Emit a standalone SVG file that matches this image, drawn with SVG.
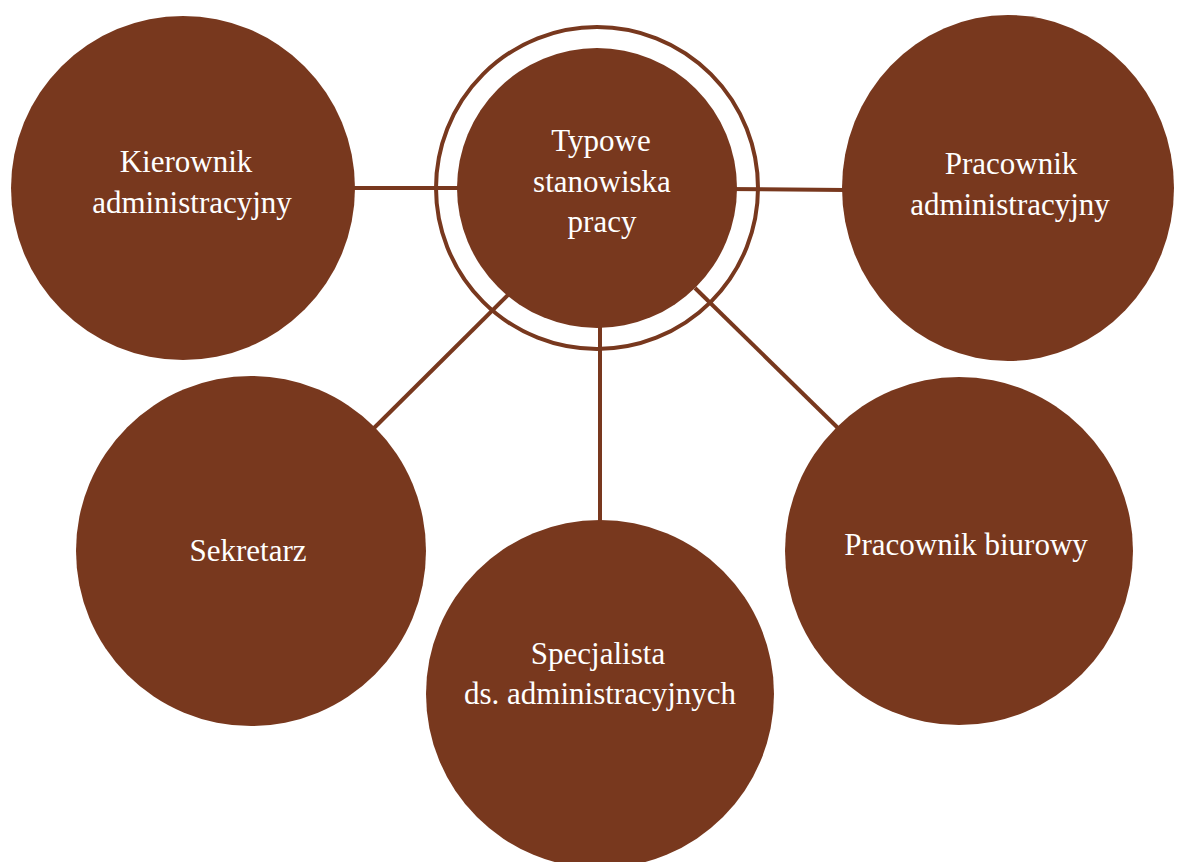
<svg xmlns="http://www.w3.org/2000/svg" width="1177" height="862" viewBox="0 0 1177 862">
<style>
.c{fill:#78381e}
.l{stroke:#78381e;stroke-width:4;fill:none}
.t{font-family:"Liberation Serif","DejaVu Serif",serif;font-size:31px;fill:#ffffff;text-anchor:middle}
</style>
<rect width="1177" height="862" fill="#ffffff"/>
<g id="connectors">
<line class="l" x1="350" y1="188" x2="470" y2="188"/>
<line class="l" x1="725" y1="189" x2="845" y2="190"/>
<line class="l" x1="368" y1="434" x2="510" y2="293"/>
<line class="l" x1="600" y1="320" x2="600" y2="525"/>
<line class="l" x1="695" y1="288" x2="840" y2="430"/>
</g>
<g id="center">
<circle cx="597" cy="188" r="161" fill="none" stroke="#78381e" stroke-width="4"/>
<circle class="c" cx="597" cy="188" r="140"/>
<text class="t" x="601" y="151">Typowe</text>
<text class="t" x="602" y="192">stanowiska</text>
<text class="t" x="602" y="232">pracy</text>
</g>
<g id="kierownik">
<circle class="c" cx="183" cy="188" r="172"/>
<text class="t" x="186" y="172">Kierownik</text>
<text class="t" x="192" y="213">administracyjny</text>
</g>
<g id="pracownik-adm">
<ellipse class="c" cx="1008" cy="188" rx="166" ry="173"/>
<text class="t" x="1011" y="174">Pracownik</text>
<text class="t" x="1010" y="215">administracyjny</text>
</g>
<g id="sekretarz">
<circle class="c" cx="251" cy="551" r="175"/>
<text class="t" x="248" y="561">Sekretarz</text>
</g>
<g id="specjalista">
<circle class="c" cx="600" cy="694" r="174"/>
<text class="t" x="598" y="664">Specjalista</text>
<text class="t" x="600" y="704">ds. administracyjnych</text>
</g>
<g id="pracownik-biurowy">
<circle class="c" cx="959" cy="551" r="174"/>
<text class="t" x="966" y="555">Pracownik biurowy</text>
</g>
</svg>
